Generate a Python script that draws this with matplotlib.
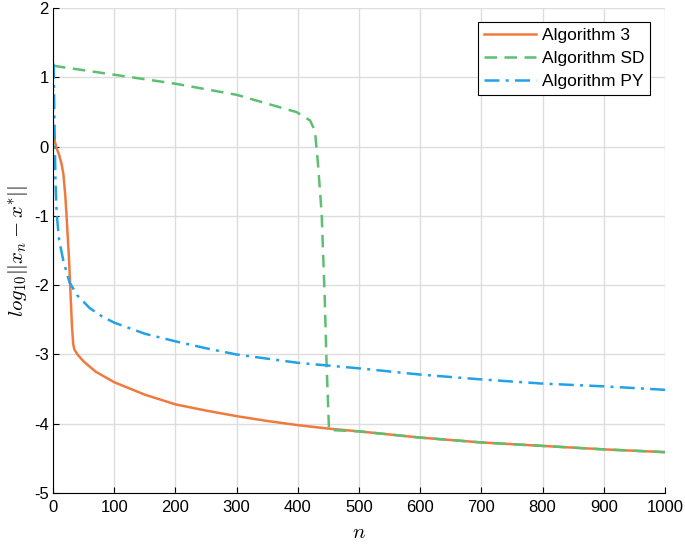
import matplotlib
matplotlib.use('Agg')
import matplotlib.pyplot as plt
import numpy as np

plt.rcParams['font.family'] = ['Liberation Sans', 'DejaVu Sans']
plt.rcParams['mathtext.fontset'] = 'cm'
plt.rcParams['axes.unicode_minus'] = False

# values (n, log10 error)
n_alg3 = [1, 3, 5, 10, 14, 17, 20, 22, 26, 28, 31, 33, 35, 40, 50, 70, 100, 150, 200, 250, 300, 350, 400,
          450, 500, 600, 700, 800, 900, 1000]
y_alg3 = [0.2, 0.08, 0.0, -0.12, -0.25, -0.4, -0.7, -0.98, -1.6, -2.0, -2.6, -2.85, -2.93, -3.0, -3.1,
          -3.25, -3.4, -3.58, -3.72, -3.81, -3.89, -3.96, -4.02, -4.07, -4.11, -4.2, -4.27, -4.32, -4.37, -4.41]

n_sd = [0, 100, 200, 300, 398, 420, 428, 433, 439, 444, 447, 451, 500, 600, 700, 800, 900, 1000]
y_sd = [1.17, 1.04, 0.91, 0.75, 0.5, 0.38, 0.23, -0.25, -0.97, -2.19, -3.14, -4.09, -4.11, -4.2, -4.27,
        -4.32, -4.37, -4.41]

n_py = [1, 2, 3, 4, 6, 10, 17, 27, 40, 60, 80, 100, 150, 200, 250, 300, 350, 400, 450, 500, 600, 700,
        800, 900, 1000]
y_py = [1.2, 0.6, 0.0, -0.5, -0.97, -1.35, -1.65, -1.96, -2.15, -2.33, -2.45, -2.54, -2.7, -2.81, -2.91,
        -3.0, -3.06, -3.12, -3.16, -3.2, -3.29, -3.36, -3.42, -3.46, -3.51]

fig = plt.figure(figsize=(6.85, 5.49), dpi=100)
ax = fig.add_axes([0.0774, 0.102, 0.8934, 0.883])

ax.plot(n_alg3, y_alg3, color='#F07A3E', lw=1.8, label='Algorithm 3')
ax.plot(n_sd, y_sd, color='#5CBF72', lw=1.8, ls=(0, (5, 3)), label='Algorithm SD')
ax.plot(n_py, y_py, color='#22A2E6', lw=1.8, ls=(0, (6, 2.5, 1.2, 2.5)), label='Algorithm PY')

ax.set_xlim(0, 1000)
ax.set_ylim(-5, 2)
ax.set_xticks(np.arange(0, 1001, 100))
ax.set_yticks(np.arange(-5, 3, 1))
ax.grid(True, color='#DDDDDD', lw=1.0)
ax.set_axisbelow(True)
for s in ['top', 'right']:
    ax.spines[s].set_visible(False)
ax.tick_params(direction='in', length=4, labelsize=12, colors='black')
ax.tick_params(axis='x', pad=5)
ax.tick_params(axis='y', pad=3)

ax.set_xlabel('$n$', fontsize=15, labelpad=6)
ax.set_ylabel(r'$log_{10}||x_n-x^{*}||$', fontsize=15, labelpad=3)

leg = ax.legend(loc='upper right', bbox_to_anchor=(0.99, 0.99), fontsize=12.5,
                fancybox=False, framealpha=1, edgecolor='black', handlelength=3.0,
                borderpad=0.35, labelspacing=0.45, handletextpad=0.3)
leg.get_frame().set_linewidth(0.8)

fig.savefig('out.png', dpi=100)
